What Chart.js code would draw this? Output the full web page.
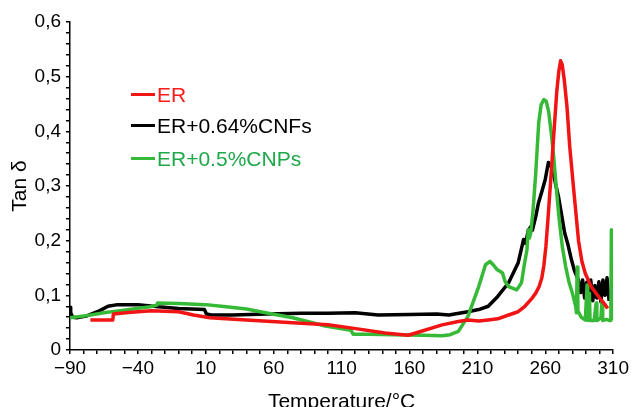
<!DOCTYPE html>
<html>
<head>
<meta charset="utf-8">
<script src="https://cdn.jsdelivr.net/npm/chart.js@4"></script>
<style>
    body { margin: 0; background: #fff; }
    #wrap { position: relative; width: 632px; height: 407px; }
    .leg { position: absolute; left: 131px; height: 21px; line-height: 21px; font-family: 'Liberation Sans', Arial, sans-serif; font-size: 21px; white-space: nowrap; }
    .leg .line { position: absolute; left: 0; top: 9px; width: 24px; height: 3px; }
    .leg .txt { margin-left: 26px; }
</style>
</head>
<body>
<div id="wrap">
    <canvas id="tan-chart" width="632" height="407"></canvas>
    <div class="leg" style="top:84px;color:#ff1a1a"><span class="line" style="background:#f01414"></span><span class="txt">ER</span></div>
    <div class="leg" style="top:115px;color:#000"><span class="line" style="background:#000"></span><span class="txt">ER+0.64%CNFs</span></div>
    <div class="leg" style="top:148px;color:#1ea84a"><span class="line" style="background:#36b936"></span><span class="txt">ER+0.5%CNPs</span></div>
</div>
<script>
// ER
const erTemp = [-75, -58.5, -58, -45, -30, -10, 1, 13, 40, 74, 100, 118, 142, 159, 167, 184, 196, 203, 211, 218, 225, 233, 240, 245, 250, 253, 255.5, 257.5, 259, 260.5, 262, 264, 266, 268.5, 270, 271.3, 272.5, 274, 276, 278, 281, 284.5, 287, 289.5, 294, 299.5, 304, 306];
const erTan = [0.055, 0.055, 0.066, 0.069, 0.072, 0.070, 0.064, 0.059, 0.055, 0.050, 0.046, 0.040, 0.031, 0.027, 0.033, 0.046, 0.052, 0.055, 0.053, 0.055, 0.057, 0.064, 0.070, 0.080, 0.094, 0.104, 0.116, 0.132, 0.155, 0.190, 0.240, 0.310, 0.384, 0.473, 0.510, 0.529, 0.522, 0.494, 0.445, 0.373, 0.292, 0.200, 0.162, 0.140, 0.115, 0.097, 0.083, 0.076];

// ER+0.64%CNFs
const cnfTemp = [-90, -89.5, -88, -85, -78, -68, -62, -55, -40, -25, -10, 9, 10.5, 14, 30, 55, 80, 100, 120, 137, 160, 180, 189, 203, 211, 218, 225, 233, 240, 244, 245.5, 247.5, 249.5, 250.5, 253, 255, 257.5, 260, 262.3, 264, 266, 267.5, 269.7, 271.5, 274.3, 276.5, 279.3, 281.5, 284.3, 286, 287.5, 289, 290.5, 292, 293.5, 295, 296.5, 298, 299.5, 301, 302.5, 304, 305.5, 307];
const cnfTan = [0.078, 0.068, 0.060, 0.059, 0.062, 0.072, 0.080, 0.083, 0.083, 0.079, 0.076, 0.074, 0.066, 0.064, 0.064, 0.066, 0.067, 0.067, 0.068, 0.064, 0.065, 0.066, 0.064, 0.070, 0.074, 0.080, 0.098, 0.123, 0.159, 0.202, 0.195, 0.219, 0.226, 0.219, 0.244, 0.269, 0.290, 0.312, 0.343, 0.338, 0.324, 0.305, 0.281, 0.255, 0.214, 0.195, 0.165, 0.145, 0.129, 0.105, 0.128, 0.095, 0.124, 0.100, 0.128, 0.090, 0.118, 0.095, 0.125, 0.088, 0.128, 0.100, 0.132, 0.090];

// ER+0.5%CNPs
const cnpTemp = [-90, -80, -65, -53, -31, -26, -25.5, -10, 10, 25, 40, 50, 74, 98, 117, 118.5, 130, 148, 170, 184, 190, 196, 203, 211, 216, 219.3, 222, 224.5, 226, 228.5, 230.5, 233, 239, 242.5, 244.5, 246.5, 247.5, 248.3, 249.3, 251, 253, 255.2, 257, 259, 260.7, 262.5, 264.5, 266.2, 268, 270, 272.5, 275, 277.5, 280, 282.5, 283, 283.5, 284, 286.5, 289.5, 290.8, 291.3, 292.5, 293, 293.5, 296, 297.5, 298, 298.5, 301, 301.8, 302.3, 305, 307, 308.3, 308.7, 309.2, 309.6];
const cnpTan = [0.059, 0.062, 0.068, 0.072, 0.079, 0.082, 0.086, 0.085, 0.083, 0.079, 0.075, 0.070, 0.059, 0.044, 0.036, 0.029, 0.029, 0.028, 0.027, 0.026, 0.028, 0.034, 0.061, 0.116, 0.156, 0.162, 0.155, 0.147, 0.145, 0.141, 0.125, 0.116, 0.110, 0.123, 0.155, 0.183, 0.220, 0.205, 0.214, 0.255, 0.324, 0.416, 0.449, 0.458, 0.455, 0.436, 0.395, 0.354, 0.300, 0.245, 0.190, 0.153, 0.124, 0.104, 0.079, 0.068, 0.152, 0.072, 0.060, 0.055, 0.119, 0.054, 0.104, 0.054, 0.054, 0.054, 0.086, 0.054, 0.054, 0.059, 0.089, 0.054, 0.056, 0.054, 0.054, 0.220, 0.060, 0.058];

const xMin = -90, xMax = 310, xStep = 10;
const yMin = 0, yMax = 0.6, yStep = 0.02;

(function () {
    Chart.defaults.font.family = "'Liberation Sans', Arial, sans-serif";
    Chart.defaults.color = '#000';

    const toPoints = (xs, ys) => xs.map((x, i) => ({ x: x, y: ys[i] }));

    function xLabel(v) {
        if ((Math.round(v) - xMin) % 50 !== 0) return '';
        return v < 0 ? '\u2212' + Math.abs(v) : String(v);
    }

    function yLabel(v) {
        const n = Math.round(v * 100);
        if (n % 10 !== 0) return '';
        return n === 0 ? '0' : (n / 100).toFixed(1).replace('.', ',');
    }

    const axisGrid = { drawOnChartArea: false, drawTicks: true, tickLength: 4, color: '#000', lineWidth: 1.5 };
    const axisBorder = { color: '#000', width: 1.5 };

    new Chart(document.getElementById('tan-chart'), {
        type: 'scatter',
        data: {
            datasets: [
                { label: 'ER', data: toPoints(erTemp, erTan), borderColor: '#f01414', borderWidth: 3.5, showLine: true },
                { label: 'ER+0.5%CNPs', data: toPoints(cnpTemp, cnpTan), borderColor: '#36b936', borderWidth: 3.5, showLine: true },
                { label: 'ER+0.64%CNFs', data: toPoints(cnfTemp, cnfTan), borderColor: '#000', borderWidth: 3.5, showLine: true },
            ]
        },
        options: {
            responsive: false,
            animation: false,
            layout: { padding: { top: 22, right: 17, left: 0, bottom: 0 } },
            elements: { point: { radius: 0 }, line: { tension: 0, borderJoinStyle: 'round' } },
            plugins: { legend: { display: false }, tooltip: { enabled: false } },
            scales: {
                x: {
                    type: 'linear',
                    min: xMin,
                    max: xMax,
                    grid: axisGrid,
                    border: axisBorder,
                    ticks: { stepSize: xStep, autoSkip: false, maxRotation: 0, padding: 3, font: { size: 19 }, callback: xLabel },
                    title: { display: true, text: 'Temperature/°C', font: { size: 21, lineHeight: 1 }, padding: { top: 0, bottom: -6 } },
                    afterFit: (scale) => { scale.height = 57; },
                },
                y: {
                    min: yMin,
                    max: yMax,
                    grid: axisGrid,
                    border: axisBorder,
                    ticks: { stepSize: yStep, autoSkip: false, padding: 5, font: { size: 19 }, callback: yLabel },
                    title: { display: true, text: 'Tan δ', font: { size: 21, lineHeight: 1 }, padding: { top: 10, bottom: 0 } },
                    afterFit: (scale) => { scale.width = 70; },
                }
            }
        }
    });
})();
</script>
</body>
</html>
